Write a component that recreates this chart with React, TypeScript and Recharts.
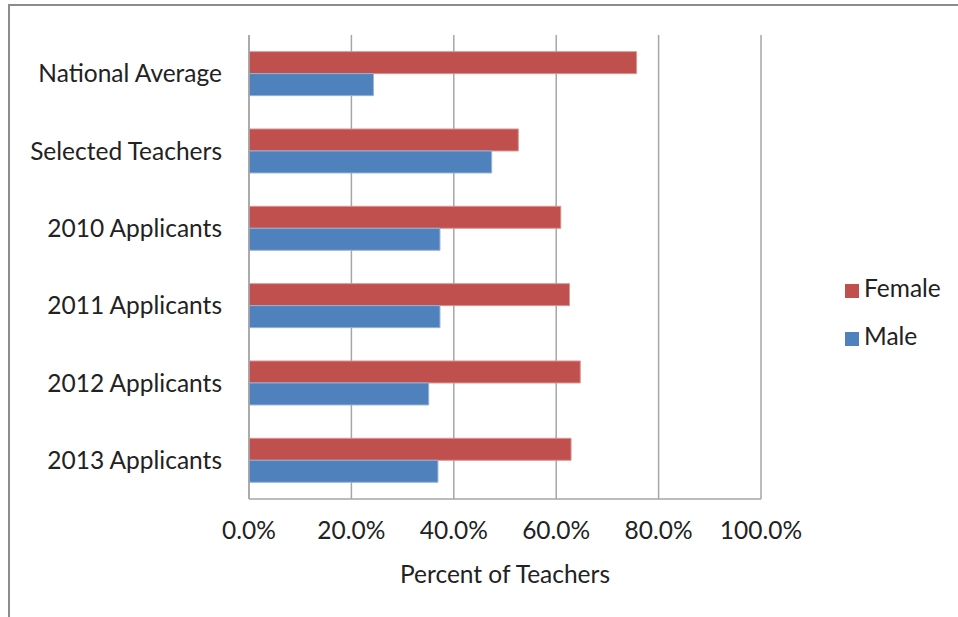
import { BarChart, Bar, XAxis, YAxis, CartesianGrid, Legend } from 'recharts';

// values (percent)
const groups = [
    'National Average',
    'Selected Teachers',
    '2010 Applicants',
    '2011 Applicants',
    '2012 Applicants',
    '2013 Applicants'
];
const female = [75.7, 52.6, 60.9, 62.6, 64.7, 62.9];
const male = [24.3, 47.4, 37.3, 37.3, 35.1, 36.9];
const xTicks = [0, 20, 40, 60, 80, 100];

const data = groups.map((g, i) => ({ group: g, female: female[i], male: male[i] }));

const FONT = 'Lato, "Open Sans", sans-serif';
const GRID = '#a6a6a6';
const FS = 24.5;

export default function App() {
    return (
        <div style={{ position: 'absolute', left: 0, top: 0, width: 958, height: 617, background: '#fff', fontFamily: FONT }}>
            {/* outer frame, cropped on right and bottom */}
            <div style={{ position: 'absolute', left: 8, top: 4, width: 950, height: 613, borderLeft: '2px solid #8c8c8c', borderTop: '2px solid #8c8c8c' }} />
            <BarChart
                width={958}
                height={617}
                data={data}
                layout="vertical"
                margin={{ top: 35, right: 87, bottom: 0, left: 0 }}
                barCategoryGap="21.5%"
                barGap={0}
                style={{ position: 'absolute', left: 0, top: 0 }}
            >
                <CartesianGrid horizontal={false} stroke={GRID} strokeWidth={1.5} />
                <XAxis
                    type="number"
                    domain={[0, 100]}
                    ticks={xTicks}
                    tickFormatter={(v) => `${v.toFixed(1)}%`}
                    tickLine={false}
                    axisLine={{ stroke: GRID, strokeWidth: 1.5 }}
                    tick={{ fontSize: FS, fill: '#222', fontFamily: FONT }}
                    tickMargin={17}
                    height={118}
                    label={{ value: 'Percent of Teachers', position: 'insideBottom', offset: 34, fontSize: FS, fill: '#222', fontFamily: FONT }}
                />
                <YAxis
                    type="category"
                    dataKey="group"
                    width={249}
                    tickLine={false}
                    axisLine={{ stroke: GRID, strokeWidth: 1.5 }}
                    tick={{ fontSize: FS, fill: '#222', fontFamily: FONT }}
                    tickMargin={21}
                />
                <Legend
                    layout="vertical"
                    align="right"
                    verticalAlign="middle"
                    iconType="square"
                    iconSize={14}
                    wrapperStyle={{ width: 110, left: 845, right: 'auto', top: 264, fontFamily: FONT, fontSize: FS, lineHeight: '48px', color: '#222' }}
                    formatter={(value) => <span style={{ color: '#222', marginLeft: 1 }}>{value}</span>}
                />
                <Bar dataKey="female" name="Female" fill="#c0504d" stroke="#d99694" strokeWidth={1} isAnimationActive={false} />
                <Bar dataKey="male" name="Male" fill="#4f81bd" stroke="#95b3d7" strokeWidth={1} isAnimationActive={false} />
            </BarChart>
        </div>
    );
}
